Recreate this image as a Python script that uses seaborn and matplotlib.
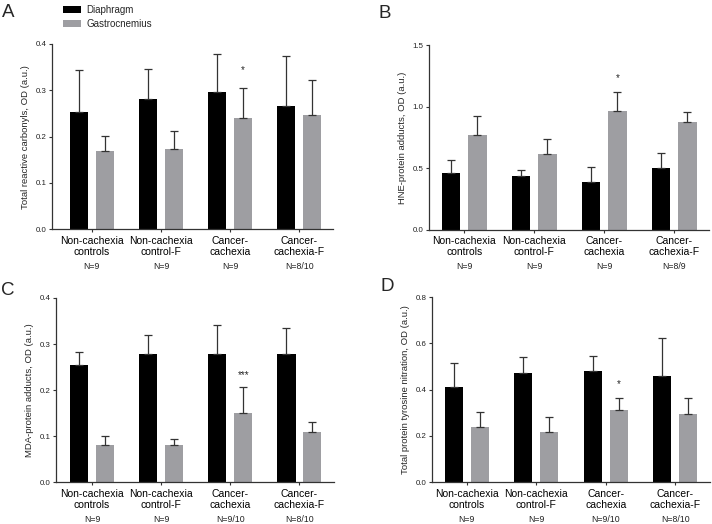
# plot.py
# Oxidative stress markers in diaphragm and gastrocnemius (panels A-D)

import pandas as pd
import matplotlib
matplotlib.use('Agg')
import matplotlib.pyplot as plt
import seaborn as sns

# Data
groups = ['Non-cachexia\ncontrols', 'Non-cachexia\ncontrol-F', 'Cancer-\ncachexia', 'Cancer-\ncachexia-F']
tissues = ['Diaphragm', 'Gastrocnemius']

# A - total reactive carbonyls
carb_dia = [0.254, 0.281, 0.296, 0.267]
carb_dia_err = [0.344, 0.346, 0.378, 0.375]
carb_gas = [0.169, 0.174, 0.241, 0.246]
carb_gas_err = [0.202, 0.213, 0.305, 0.323]
carb_n = ['N=9', 'N=9', 'N=9', 'N=8/10']

# B - HNE-protein adducts
hne_dia = [0.462, 0.435, 0.392, 0.505]
hne_dia_err = [0.570, 0.489, 0.514, 0.622]
hne_gas = [0.768, 0.616, 0.968, 0.876]
hne_gas_err = [0.924, 0.740, 1.119, 0.959]
hne_n = ['N=9', 'N=9', 'N=9', 'N=8/9']

# C - MDA-protein adducts
mda_dia = [0.254, 0.278, 0.278, 0.278]
mda_dia_err = [0.282, 0.319, 0.342, 0.335]
mda_gas = [0.081, 0.080, 0.151, 0.109]
mda_gas_err = [0.101, 0.094, 0.206, 0.131]
mda_n = ['N=9', 'N=9', 'N=9/10', 'N=8/10']

# D - total protein tyrosine nitration
nitro_dia = [0.410, 0.474, 0.480, 0.461]
nitro_dia_err = [0.515, 0.539, 0.545, 0.621]
nitro_gas = [0.238, 0.216, 0.314, 0.295]
nitro_gas_err = [0.304, 0.281, 0.362, 0.362]
nitro_n = ['N=9', 'N=9', 'N=9/10', 'N=8/10']

# significance marks (group index, label, height)
carb_sig = (2, '*', 0.344)
hne_sig = (2, '*', 1.23)
mda_sig = (2, '***', 0.233)
nitro_sig = (2, '*', 0.424)

sns.set_style('ticks')
plt.rcParams['font.family'] = ['Liberation Sans', 'DejaVu Sans']

W, H = 712, 524
fig = plt.figure(figsize=(W / 100, H / 100), dpi=100)

palette = {'Diaphragm': '#000000', 'Gastrocnemius': '#9e9ea2'}
dark = '#333333'

panels = [
    # letter, ylabel, dia, dia_err, gas, gas_err, n labels, sig, ylim, yticks, axes px (left, top, width, height), xlim, letter px
    ('A', 'Total reactive carbonyls, OD (a.u.)', carb_dia, carb_dia_err, carb_gas, carb_gas_err,
     carb_n, carb_sig, 0.4, [0, 0.1, 0.2, 0.3, 0.4], (52.3, 44, 281, 185.3), (-0.57, 3.49), (2, 17)),
    ('B', 'HNE-protein adducts, OD (a.u.)', hne_dia, hne_dia_err, hne_gas, hne_gas_err,
     hne_n, hne_sig, 1.5, [0, 0.5, 1.0, 1.5], (429.3, 45, 280, 185), (-0.5, 3.5), (378, 18)),
    ('C', 'MDA-protein adducts, OD (a.u.)', mda_dia, mda_dia_err, mda_gas, mda_gas_err,
     mda_n, mda_sig, 0.4, [0, 0.1, 0.2, 0.3, 0.4], (56, 298, 278, 184.3), (-0.52, 3.5), (1, 295)),
    ('D', 'Total protein tyrosine nitration, OD (a.u.)', nitro_dia, nitro_dia_err, nitro_gas, nitro_gas_err,
     nitro_n, nitro_sig, 0.8, [0, 0.2, 0.4, 0.6, 0.8], (432, 297, 278, 185.3), (-0.5, 3.5), (380, 291)),
]

for (letter, ylabel, dia, dia_err, gas, gas_err, n_labels, sig, ytop, yticks,
     box, xlim, letter_pos) in panels:
    left, top, width, height = box
    ax = fig.add_axes([left / W, 1 - (top + height) / H, width / W, height / H])

    df = pd.DataFrame({
        'group': groups * 2,
        'tissue': [tissues[0]] * 4 + [tissues[1]] * 4,
        'value': dia + gas,
    })
    sns.barplot(data=df, x='group', y='value', hue='tissue', order=groups,
                hue_order=tissues, palette=palette, width=0.75, gap=0.3,
                errorbar=None, saturation=1, linewidth=0, ax=ax,
                legend=(letter == 'A'))

    # upper-only SEM bars
    for container, tops in zip(ax.containers, [dia_err, gas_err]):
        for bar, t in zip(container, tops):
            x = bar.get_x() + bar.get_width() / 2
            h = bar.get_height()
            ax.errorbar(x, h, yerr=[[0], [t - h]], fmt='none', ecolor=dark,
                        elinewidth=0.9, capsize=3.2, capthick=0.9, zorder=1)

    ax.set_xlim(*xlim)
    ax.set_ylim(0, ytop)
    ax.set_yticks(yticks)
    ax.set_yticklabels(['%.1f' % v for v in yticks], fontsize=5.7, color='#222222')
    ax.set_xticks(range(4))
    ax.set_xticklabels(groups, fontsize=7.5, color='black', linespacing=1.15)
    ax.tick_params(axis='both', length=2.3, width=0.8, color=dark)
    ax.tick_params(axis='x', pad=2.2)
    ax.tick_params(axis='y', pad=1.8)
    ax.set_xlabel('')
    ax.set_ylabel(ylabel, fontsize=6.8, labelpad=4)
    sns.despine(ax=ax)
    for s in ['left', 'bottom']:
        ax.spines[s].set_color(dark)
        ax.spines[s].set_linewidth(0.9)

    for i, lab in enumerate(n_labels):
        ax.annotate(lab, xy=(i, 0), xycoords=('data', 'axes fraction'),
                    xytext=(0, -26.6), textcoords='offset points',
                    ha='center', va='center', fontsize=6.3, color='#222222')

    gi, mark, y = sig
    ax.text(gi + 0.1875, y, mark, ha='center', va='center', fontsize=7)

    fig.text(letter_pos[0] / W, 1 - letter_pos[1] / H, letter, fontsize=13.5,
             ha='left', va='baseline')

    if letter == 'A':
        sns.move_legend(ax, loc='upper left', bbox_to_anchor=(63 / W, 1 - 5 / H),
                        bbox_transform=fig.transFigure, frameon=False, title=None,
                        fontsize=7, handlelength=1.85, handleheight=0.7,
                        handletextpad=0.55, labelspacing=0.4, borderpad=0,
                        borderaxespad=0)

fig.savefig('out.png', dpi=100)
